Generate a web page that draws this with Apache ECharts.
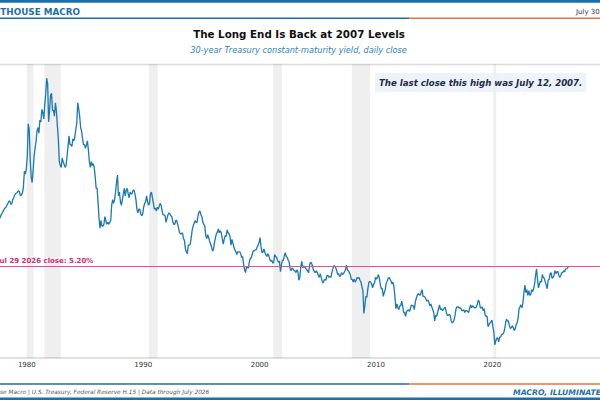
<!DOCTYPE html>
<html>
<head>
<meta charset="utf-8">
<script src="https://cdn.jsdelivr.net/npm/echarts@6/dist/echarts.min.js"></script>
<style>
html,body{margin:0;padding:0;background:#fff;overflow:hidden}
#c{width:600px;height:400px}
</style>
</head>
<body>
<div id="c"></div>
<script>
// ---- DATA (monthly readings of the 30-year yield, %), first point = Feb 1977 ----
const startYear = 1977;
const startMonth = 2;
const yields1970s = [
  7.75, 7.73, 7.70, 7.62, 7.60, 7.68, 7.72, 7.74, 7.90, 7.98, 8.08,
  8.18, 8.25, 8.30, 8.40, 8.50, 8.62, 8.62, 8.45, 8.48, 8.70, 8.80, 8.95,
  9.02, 9.05, 9.10, 9.18, 9.10, 8.90, 8.95, 9.05, 9.35, 10.20, 10.05, 10.30
];
const yields1980s = [
  11.00, 12.70, 12.40, 10.80, 9.90, 9.60, 10.20, 11.00, 11.40, 11.75, 12.30, 12.50,
  12.20, 12.90, 12.80, 13.45, 13.30, 12.95, 13.70, 14.30, 15.10, 14.80, 12.80, 13.40,
  14.20, 14.30, 13.40, 13.40, 13.10, 13.80, 13.40, 12.60, 11.90, 10.70, 10.50, 10.40,
  10.90, 10.70, 10.55, 10.40, 10.50, 11.00, 11.50, 12.05, 11.60, 11.60, 11.50, 11.90,
  11.80, 12.00, 12.40, 12.70, 13.80, 13.50, 13.10, 12.50, 12.30, 11.90, 11.60, 11.60,
  11.40, 11.60, 11.80, 11.30, 10.70, 10.40, 10.70, 10.50, 10.60, 10.40, 9.90, 9.30,
  9.30, 8.50, 7.70, 7.20, 7.60, 7.30, 7.30, 7.40, 7.80, 7.60, 7.40, 7.50,
  7.40, 7.50, 7.60, 8.40, 8.70, 8.50, 8.70, 9.10, 9.60, 10.00, 8.90, 9.10,
  8.60, 8.40, 8.70, 9.00, 9.30, 8.90, 9.20, 9.30, 9.00, 8.80, 9.10, 9.00,
  9.00, 9.20, 9.20, 9.00, 8.70, 8.20, 8.00, 8.20, 8.20, 7.95, 7.85, 7.95
];
const yields1990s = [
  8.30, 8.50, 8.60, 8.90, 8.60, 8.40, 8.50, 9.00, 9.10, 8.80, 8.50, 8.20,
  8.25, 8.10, 8.30, 8.20, 8.35, 8.50, 8.40, 8.10, 7.90, 7.90, 7.85, 7.50,
  7.70, 7.90, 8.00, 7.95, 7.85, 7.80, 7.55, 7.40, 7.40, 7.60, 7.60, 7.40,
  7.20, 6.95, 6.90, 6.90, 6.95, 6.65, 6.55, 6.10, 5.95, 5.85, 6.30, 6.30,
  6.35, 6.70, 7.10, 7.30, 7.45, 7.60, 7.50, 7.50, 7.85, 8.05, 8.10, 7.90,
  7.80, 7.50, 7.40, 7.30, 6.80, 6.65, 6.85, 6.70, 6.50, 6.35, 6.20, 5.98,
  6.10, 6.45, 6.70, 6.90, 7.00, 7.15, 6.95, 7.05, 6.95, 6.65, 6.35, 6.60,
  6.80, 6.75, 7.10, 6.95, 6.90, 6.75, 6.30, 6.60, 6.40, 6.20, 6.05, 5.95,
  5.80, 5.95, 5.95, 5.95, 5.85, 5.65, 5.70, 5.30, 5.00, 4.85, 5.15, 5.10,
  5.10, 5.45, 5.60, 5.65, 5.85, 6.00, 6.00, 6.05, 6.05, 6.20, 6.30, 6.45
];
const yields2000s = [
  6.70, 6.20, 5.90, 5.95, 6.10, 5.90, 5.80, 5.70, 5.85, 5.75, 5.55, 5.45,
  5.50, 5.35, 5.40, 5.80, 5.70, 5.65, 5.50, 5.40, 5.45, 4.90, 5.25, 5.50,
  5.50, 5.75, 5.90, 5.70, 5.65, 5.50, 5.40, 5.05, 4.95, 5.10, 5.05, 4.95,
  4.95, 4.85, 5.00, 4.90, 4.45, 4.60, 5.20, 5.45, 5.10, 5.20, 5.15, 5.10,
  5.00, 4.95, 4.85, 5.25, 5.40, 5.35, 5.20, 5.00, 4.90, 4.85, 4.95, 4.85,
  4.70, 4.60, 4.80, 4.60, 4.40, 4.30, 4.45, 4.50, 4.45, 4.70, 4.70, 4.60,
  4.65, 4.60, 4.85, 5.05, 5.20, 5.20, 5.10, 4.95, 4.75, 4.80, 4.65, 4.70,
  4.85, 4.75, 4.80, 4.90, 5.00, 5.25, 5.00, 4.95, 4.85, 4.75, 4.50, 4.50,
  4.35, 4.50, 4.35, 4.45, 4.60, 4.55, 4.60, 4.45, 4.35, 4.10, 3.90, 2.70,
  3.10, 3.60, 3.55, 3.95, 4.30, 4.40, 4.35, 4.25, 4.05, 4.25, 4.30, 4.60
];
const yields2010s = [
  4.50, 4.60, 4.75, 4.55, 4.20, 4.00, 4.00, 3.60, 3.80, 3.95, 4.30, 4.40,
  4.55, 4.60, 4.50, 4.40, 4.25, 4.35, 4.10, 3.60, 2.95, 3.20, 3.00, 2.90,
  3.10, 3.10, 3.35, 3.10, 2.75, 2.75, 2.55, 2.80, 2.85, 2.90, 2.80, 2.95,
  3.15, 3.10, 3.10, 2.90, 3.30, 3.50, 3.65, 3.75, 3.70, 3.65, 3.80, 3.95,
  3.60, 3.60, 3.55, 3.45, 3.35, 3.40, 3.30, 3.10, 3.20, 3.05, 2.90, 2.75,
  2.30, 2.60, 2.55, 2.75, 2.95, 3.15, 2.90, 2.95, 2.85, 2.90, 3.00, 3.00,
  2.75, 2.60, 2.60, 2.65, 2.60, 2.30, 2.20, 2.25, 2.35, 2.60, 2.95, 3.05,
  3.05, 3.00, 3.00, 2.95, 2.85, 2.85, 2.90, 2.75, 2.85, 2.85, 2.80, 2.75,
  2.95, 3.15, 3.00, 3.10, 3.05, 3.00, 3.00, 3.05, 3.20, 3.40, 3.30, 3.00,
  3.00, 3.05, 2.85, 2.95, 2.60, 2.55, 2.55, 2.00, 2.10, 2.20, 2.25, 2.35
];
const yields2020s = [
  2.00, 1.70, 1.05, 1.25, 1.40, 1.40, 1.20, 1.45, 1.45, 1.60, 1.60, 1.65,
  1.85, 2.15, 2.40, 2.30, 2.30, 2.05, 1.90, 1.95, 2.05, 1.95, 1.80, 1.90,
  2.10, 2.20, 2.45, 2.95, 3.05, 3.15, 3.00, 3.25, 3.80, 4.20, 3.80, 3.95,
  3.65, 3.90, 3.65, 3.70, 3.95, 3.85, 4.00, 4.25, 4.70, 5.05, 4.50, 4.05,
  4.25, 4.40, 4.35, 4.75, 4.60, 4.55, 4.35, 4.20, 4.00, 4.45, 4.50, 4.80,
  4.85, 4.55, 4.60, 4.70, 4.95, 4.80, 4.90, 4.90, 4.70, 4.60, 4.70, 4.85,
  4.85, 4.95, 4.90, 5.05, 5.05, 5.10, 5.20
];
const recessionStart = ['1980-01', '1981-07', '1990-07', '2001-03', '2007-12', '2020-02'];
const recessionEnd   = ['1980-07', '1982-11', '1991-03', '2001-11', '2009-06', '2020-04'];
const tickYears = [1980, 1990, 2000, 2010, 2020];
const closeValue = 5.20;
const closeLabel = 'Jul 29 2026 close: 5.20%';
const lineStartYear = 1977.18;
const headerLeft = 'LIGHTHOUSE MACRO';
const headerDate = 'July 30, 2026';
const titleText = 'The Long End Is Back at 2007 Levels';
const subtitleText = '30-year Treasury constant-maturity yield, daily close';
const noteText = 'The last close this high was July 12, 2007.';
const footerLeft = 'Lighthouse Macro | U.S. Treasury, Federal Reserve H.15 | Data through July 2026';
const footerRight = 'MACRO, ILLUMINATED.';

// ---- build ----
const yields = [].concat(yields1970s, yields1980s, yields1990s, yields2000s, yields2010s, yields2020s);
const points = yields.map((v, i) => {
  const idx = (startMonth - 1) + i;
  return [startYear + (idx + 0.5) / 12, v];
});
const ymStart = s => { const [y, m] = s.split('-').map(Number); return y + (m - 1) / 12; };
const ymEnd = s => { const [y, m] = s.split('-').map(Number); return y + m / 12; };
const recessions = recessionStart.map((s, i) => [{ xAxis: ymStart(s) }, { xAxis: ymEnd(recessionEnd[i]) }]);

const BLUE = '#1c6fa8', ORANGE = '#e8743b', FONT = '"DejaVu Sans"';
const chart = echarts.init(document.getElementById('c'), null, { renderer: 'svg', width: 600, height: 400 });
chart.setOption({
  animation: false,
  backgroundColor: '#ffffff',
  grid: { left: -89.6, right: -8.8, top: 64, bottom: 42, containLabel: false, outerBoundsMode: 'none' },
  xAxis: {
    type: 'value', min: 1970, max: 2030, interval: 10,
    axisLine: { show: true, lineStyle: { color: '#d6d6d6', width: 1.5 } },
    axisTick: { show: false },
    splitLine: { show: false },
    axisLabel: {
      color: '#333', fontSize: 7, fontFamily: FONT, margin: 3,
      formatter: v => tickYears.includes(Math.round(v)) ? String(Math.round(v)) : ''
    }
  },
  yAxis: {
    type: 'value', min: 0.35, max: 15.85,
    show: false, splitLine: { show: false }
  },
  series: [{
    type: 'line',
    data: points,
    showSymbol: false, symbol: 'none',
    lineStyle: { color: '#1a78b2', width: 1.3 },
    z: 3,
    markArea: {
      silent: true,
      itemStyle: { color: 'rgba(0,0,0,0.062)' },
      data: recessions
    },
    markLine: {
      silent: true,
      symbol: ['none', 'none'],
      lineStyle: { color: '#e64d97', width: 1.2, type: 'solid' },
      label: {
        show: true, position: 'insideStartTop', distance: [3, 2],
        formatter: closeLabel, color: '#d12c7c', fontWeight: 'bold', fontSize: 7, fontFamily: FONT
      },
      data: [[{ coord: [lineStartYear, closeValue] }, { coord: [2030, closeValue] }]]
    }
  }],
  graphic: [
    { type: 'rect', shape: { x: 0, y: 0, width: 600, height: 2.8 }, style: { fill: BLUE }, silent: true },
    { type: 'text', x: 80, y: 12, style: { text: headerLeft, fill: BLUE, font: 'bold 8.8px ' + FONT, textAlign: 'right', textVerticalAlign: 'middle', verticalAlign: 'middle' } },
    { type: 'text', x: 576, y: 12, style: { text: headerDate, fill: '#333', font: '7px ' + FONT, textAlign: 'left', textVerticalAlign: 'middle', verticalAlign: 'middle' } },
    { type: 'line', shape: { x1: 0, y1: 18.3, x2: 409, y2: 18.3 }, style: { stroke: BLUE, lineWidth: 1.4 } },
    { type: 'line', shape: { x1: 409, y1: 18.3, x2: 600, y2: 18.3 }, style: { stroke: ORANGE, lineWidth: 1.4 } },
    { type: 'text', x: 299, y: 33.5, style: { text: titleText, fill: '#111', font: 'bold 10.3px ' + FONT, textAlign: 'center', textVerticalAlign: 'middle', verticalAlign: 'middle' } },
    { type: 'text', x: 298.5, y: 50, style: { text: subtitleText, fill: '#2f7fb8', font: 'italic 8.2px ' + FONT, textAlign: 'center', textVerticalAlign: 'middle', verticalAlign: 'middle' } },
    { type: 'line', shape: { x1: 0, y1: 64.5, x2: 600, y2: 64.5 }, style: { stroke: '#dcdcdc', lineWidth: 1.5 } },
    { type: 'text', x: 375, y: 73, z: 10, style: { text: noteText, fill: '#1b2a49', font: 'italic bold 8.6px ' + FONT, textAlign: 'left', textVerticalAlign: 'top', verticalAlign: 'top', backgroundColor: 'rgba(232,239,247,0.75)', padding: [5, 4, 5, 4] } },
    { type: 'line', shape: { x1: 0, y1: 384, x2: 409, y2: 384 }, style: { stroke: BLUE, lineWidth: 1.3 } },
    { type: 'line', shape: { x1: 409, y1: 384, x2: 600, y2: 384 }, style: { stroke: ORANGE, lineWidth: 1.3 } },
    { type: 'text', x: -25.3, y: 392.3, style: { text: footerLeft, fill: '#555', font: 'italic 5.8px ' + FONT, textAlign: 'left', textVerticalAlign: 'middle', verticalAlign: 'middle' } },
    { type: 'text', x: 513, y: 392.3, style: { text: footerRight, fill: BLUE, font: 'italic bold 7.7px ' + FONT, textAlign: 'left', textVerticalAlign: 'middle', verticalAlign: 'middle' } },
    { type: 'rect', shape: { x: 0, y: 397.5, width: 600, height: 2.5 }, style: { fill: BLUE }, silent: true }
  ]
});
</script>
</body>
</html>
